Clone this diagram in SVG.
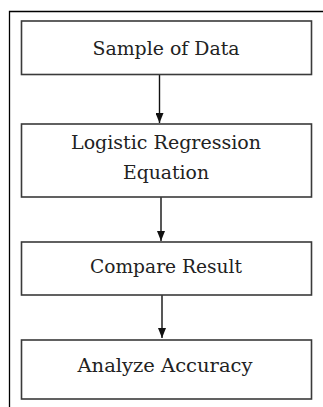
<svg xmlns="http://www.w3.org/2000/svg" width="323" height="407" viewBox="0 0 323 407">
<style>
.box{fill:#fff;stroke:#3a3a3a;stroke-width:1.6}
.lbl{font-family:'DejaVu Serif','Liberation Serif',serif;font-size:19px;fill:#222;text-anchor:middle}
.conn{stroke:#111;stroke-width:1.4;fill:none}
</style>
<defs>
<marker id="ah" markerWidth="10" markerHeight="8" refX="10" refY="4" orient="auto" markerUnits="userSpaceOnUse" viewBox="0 0 10 8">
<path d="M0,0 L10,4 L0,8 Z" fill="#111"/>
</marker>
</defs>
<rect x="0" y="0" width="323" height="407" fill="#fff"/>
<path d="M9.5,407 V11.5 H330" fill="none" stroke="#000" stroke-width="1.3"/>
<g id="connectors">
<line class="conn" x1="159.5" y1="75" x2="159.5" y2="123" marker-end="url(#ah)"/>
<line class="conn" x1="161" y1="197" x2="161" y2="241" marker-end="url(#ah)"/>
<line class="conn" x1="162" y1="295" x2="162" y2="338" marker-end="url(#ah)"/>
</g>
<g id="n1">
<rect class="box" x="21.5" y="21" width="290" height="53.5"/>
<text class="lbl" x="166" y="55" textLength="147" lengthAdjust="spacingAndGlyphs">Sample of Data</text>
</g>
<g id="n2">
<rect class="box" x="21.5" y="124" width="290" height="73"/>
<text class="lbl" x="166" y="149" textLength="190" lengthAdjust="spacingAndGlyphs">Logistic Regression</text>
<text class="lbl" x="166" y="179" textLength="86" lengthAdjust="spacingAndGlyphs">Equation</text>
</g>
<g id="n3">
<rect class="box" x="21.5" y="242" width="290" height="53"/>
<text class="lbl" x="166" y="273" textLength="152" lengthAdjust="spacingAndGlyphs">Compare Result</text>
</g>
<g id="n4">
<rect class="box" x="21.5" y="340" width="290" height="59"/>
<text class="lbl" x="165" y="372" textLength="175" lengthAdjust="spacingAndGlyphs">Analyze Accuracy</text>
</g>
</svg>
